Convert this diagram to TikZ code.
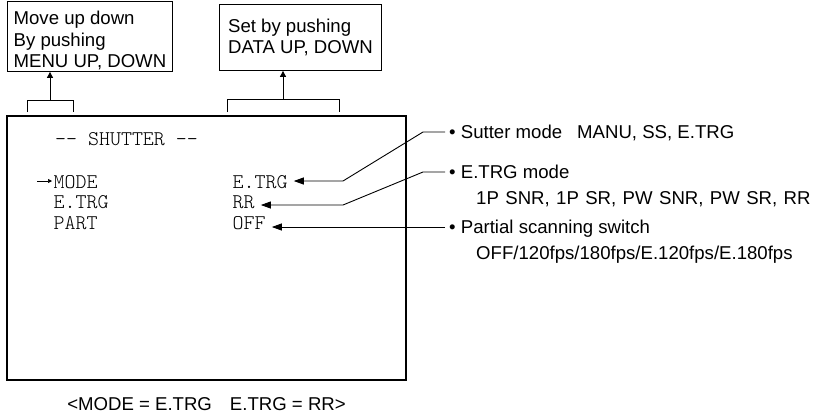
\documentclass[tikz,border=0pt]{standalone}
\usepackage{fontspec}
\setmainfont{Liberation Sans}
\newfontfamily\osdfont{lmmonolt10-regular.otf}
\usetikzlibrary{arrows.meta}

\begin{document}
\begin{tikzpicture}[x=1pt,y=-1pt,
        note/.style={draw,line width=0.9pt,align=left,anchor=north west,inner sep=0pt,
            font=\fontsize{18.6}{21.7}\selectfont},
        osd/.style={inner sep=0pt,anchor=base west,font=\osdfont\fontsize{20.9}{21}\selectfont},
        lbl/.style={inner sep=0pt,anchor=base west,font=\fontsize{18.6}{21.7}\selectfont},
        callout/.style={line width=0.9pt,shorten >=6pt,-{Triangle[length=10pt,width=7pt]}},
        uparrow/.style={line width=0.9pt,-{Triangle[length=6pt,width=6pt]}},
        bracket/.style={line width=0.9pt}]
    \useasboundingbox (0,0) rectangle (813,416);

    \node[note,minimum width=165pt,minimum height=70.5pt] (menubox) at (7,0.5)
        {\rule{0pt}{22pt}Move up down\\By pushing\\MENU UP, DOWN};
    \node[note,minimum width=162pt,minimum height=66pt] (databox) at (219,4)
        {Set by pushing\\DATA UP, DOWN};

    \node[draw,line width=2pt,outer sep=0pt,anchor=north west,
        minimum width=399pt,minimum height=264pt] (screen) at (7,116) {};

    \coordinate (menubrk) at (50,100);
    \coordinate (databrk) at (283,99);
    \draw[bracket] (menubrk) ++(-23,12) |- ++(46,-12) -- ++(0,12);
    \draw[bracket] (databrk) ++(-56,13) |- ++(112,-13) -- ++(0,13);
    \draw[uparrow] (menubrk) -- (menubrk |- menubox.south);
    \draw[uparrow] (databrk) -- (databrk |- databox.south);

    \node[osd] (title) at (55,145) {-{}- SHUTTER -{}-};
    \node[osd] (modeitem) at (53.5,188) {MODE};
    \node[osd] (etrgitem) at (53.5,208.5) {E.TRG};
    \node[osd] (partitem) at (53.5,229) {PART};
    \node[osd] (modeval) at (232.5,188) {E.TRG};
    \node[osd] (etrgval) at (232.5,208.5) {RR};
    \node[osd] (partval) at (232.5,229) {OFF};

    \coordinate (cursor) at (37,181);
    \draw[line width=0.7pt,-{Triangle[length=4pt,width=4pt]}] (cursor) -- ([xshift=-1.5pt]modeitem.west |- cursor);

    \node[lbl] (shutlbl) at (449,138.7) {• Sutter mode\hspace{15pt}MANU, SS, E.TRG};
    \node[lbl] (etrglbl) at (449,178.7) {• E.TRG mode};
    \node[lbl] (etrglist) at (476,204) {\spaceskip=6.4pt 1P SNR, 1P SR, PW SNR, PW SR, RR};
    \node[lbl] (partlbl) at (449,233.7) {• Partial scanning switch};
    \node[lbl] (partlist) at (476,259) {OFF/120fps/180fps/E.120fps/E.180fps};

    \draw[callout] ([xshift=-4pt,yshift=6.7pt]shutlbl.base west) -- ++(-22,0) -- ++(-80,49) coordinate (k1)
        -- (modeval.east |- k1);
    \draw[callout] ([xshift=-4pt,yshift=6.7pt]etrglbl.base west) -- ++(-22,0) -- ++(-80,33) coordinate (k2)
        -- (etrgval.east |- k2);
    \draw[callout] ([xshift=-4pt,yshift=6.7pt]partlbl.base west) coordinate (k3) -- (partval.east |- k3);

    \node[lbl,anchor=base] (caption) at (206.5,410) {<MODE = E.TRG\hspace{18pt}E.TRG = RR>};
\end{tikzpicture}
\end{document}
